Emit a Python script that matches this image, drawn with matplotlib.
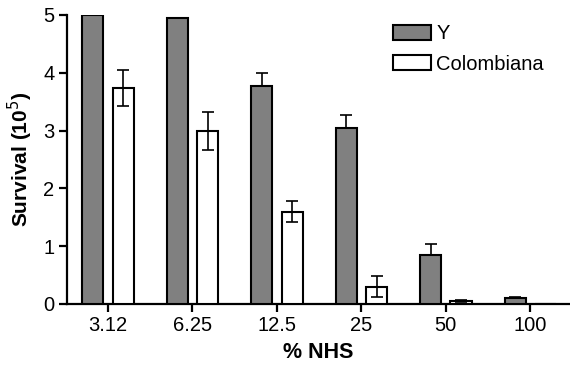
import matplotlib
matplotlib.use("Agg")
import matplotlib.pyplot as plt
import numpy as np

plt.rcParams['font.family'] = ['Liberation Sans', 'DejaVu Sans']

# data
categories = ['3.12', '6.25', '12.5', '25', '50', '100']
y_values = [5.0, 4.94, 3.78, 3.05, 0.84, 0.10]
y_errors = [0.0, 0.0, 0.22, 0.22, 0.19, 0.02]
col_values = [3.74, 3.00, 1.60, 0.30, 0.05, 0.0]
col_errors = [0.31, 0.33, 0.18, 0.18, 0.02, 0.0]

fig = plt.figure(figsize=(5.7, 3.71), dpi=100)
ax = fig.add_axes([0.1175, 0.1806, 0.8825, 0.779])

x = np.arange(len(categories))
WIDTH = 0.25
OFFSET = 0.18

ax.bar(x - OFFSET, y_values, width=WIDTH, color='#808080', edgecolor='black',
       linewidth=1.5, label='Y', zorder=3)
ax.bar(x + OFFSET, col_values, width=WIDTH, color='white', edgecolor='black',
       linewidth=1.5, label='Colombiana', zorder=3)

# Y error bars sit behind the grey bars, so only the upper half shows
ax.errorbar(x - OFFSET, y_values, yerr=y_errors, fmt='none', ecolor='black',
            elinewidth=1.2, capsize=4, capthick=1.2, zorder=2)
ax.errorbar(x + OFFSET, col_values, yerr=col_errors, fmt='none', ecolor='black',
            elinewidth=1.2, capsize=4, capthick=1.2, zorder=4)

ax.set_ylim(0, 5)
ax.set_xlim(-0.485, 5.47)
ax.set_yticks([0, 1, 2, 3, 4, 5])
ax.set_xticks(x)
ax.set_xticklabels(categories)

for side in ['top', 'right']:
    ax.spines[side].set_visible(False)
for side in ['left', 'bottom']:
    ax.spines[side].set_linewidth(1.6)
ax.tick_params(axis='both', width=1.6, length=6, labelsize=14.5, colors='black')
ax.tick_params(axis='y', pad=3)
ax.tick_params(axis='x', pad=3)

ax.set_ylabel('Survival (10$^5$)', fontsize=15, fontweight='bold', labelpad=6)
ax.set_xlabel('% NHS', fontsize=15.5, fontweight='bold', labelpad=5)

ax.legend(loc='upper left', bbox_to_anchor=(0.612, 1.03), frameon=False,
          fontsize=14.5, handlelength=1.9, handleheight=0.75, handletextpad=0.25,
          labelspacing=0.55)

fig.savefig('out.png', dpi=100)
